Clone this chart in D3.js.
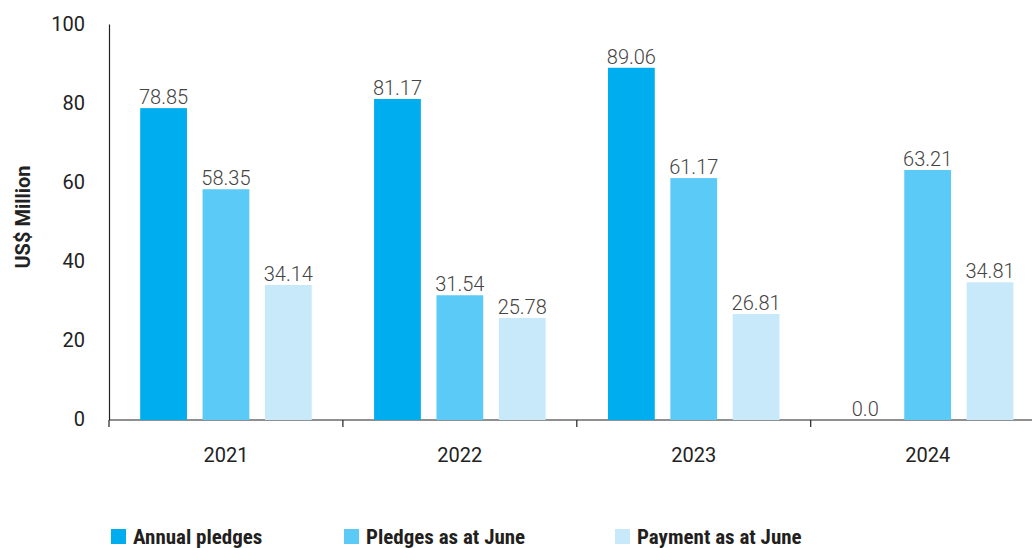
<!DOCTYPE html>
<html>
<head>
<meta charset="utf-8">
<script src="https://cdn.jsdelivr.net/npm/d3@7"></script>
<style>
  body { margin: 0; background: #fff; }
  text { font-family: Roboto, "Noto Sans", sans-serif; }
</style>
</head>
<body>
<div id="chart"></div>
<script>
var years = ["2021", "2022", "2023", "2024"];
var seriesNames = ["Annual pledges", "Pledges as at June", "Payment as at June"];
var annualPledges = [78.85, 81.17, 89.06, 0.0];
var pledgesJune = [58.35, 31.54, 61.17, 63.21];
var paymentJune = [34.14, 25.78, 26.81, 34.81];
var yTicks = [0, 20, 40, 60, 80, 100];
var colors = ["#00AEEF", "#5CCAF6", "#C7E9F9"];

var W = 1032, H = 548;
var svg = d3.select("#chart").append("svg").attr("width", W).attr("height", H);

var seriesValues = [annualPledges, pledgesJune, paymentJune];
var data = years.map(function(y, i) {
    return { year: y, vals: seriesValues.map(function(s, j) { return { key: seriesNames[j], v: s[i], c: colors[j] }; }) };
});

var x0 = d3.scaleBand().domain(years).range([109, 1044.6]);
var x1 = d3.scaleBand().domain(seriesNames).range([0, x0.bandwidth()]).paddingInner(0.25).paddingOuter(0.5);
var y = d3.scaleLinear().domain([0, 100]).range([420, 24.5]);

function fmt(v) { return v === 0 ? "0.0" : v.toFixed(2); }

// y axis line
svg.append("line").attr("x1", 109.5).attr("x2", 109.5).attr("y1", y(100)).attr("y2", y(0))
    .attr("stroke", "#222").attr("stroke-width", 1.2);

svg.selectAll(".ytick").data(yTicks).enter().append("text")
    .attr("class", "ytick")
    .attr("x", 85).attr("y", function(d) { return y(d); })
    .attr("dy", "0.32em").attr("text-anchor", "end")
    .style("font-size", "20px").attr("fill", "#222")
    .text(function(d) { return d; });

// x axis
svg.append("line").attr("x1", 109).attr("x2", 1032).attr("y1", 420).attr("y2", 420)
    .attr("stroke", "#222").attr("stroke-width", 1.2);
svg.selectAll(".xtickmark").data(years).enter().append("line")
    .attr("x1", function(d) { return x0(d); }).attr("x2", function(d) { return x0(d); })
    .attr("y1", 420).attr("y2", 427).attr("stroke", "#222").attr("stroke-width", 1.2);
svg.selectAll(".xlabel").data(years).enter().append("text")
    .attr("x", function(d) { return x0(d) + x0.bandwidth() / 2; })
    .attr("y", 462).attr("text-anchor", "middle")
    .style("font-size", "20px").attr("fill", "#222")
    .text(function(d) { return d; });

// bars
var groups = svg.selectAll(".grp").data(data).enter().append("g")
    .attr("transform", function(d) { return "translate(" + x0(d.year) + ",0)"; });

groups.selectAll("rect").data(function(d) { return d.vals; }).enter().append("rect")
    .attr("x", function(d) { return x1(d.key); })
    .attr("y", function(d) { return y(d.v); })
    .attr("width", x1.bandwidth())
    .attr("height", function(d) { return y(0) - y(d.v); })
    .attr("fill", function(d) { return d.c; });

groups.selectAll(".val").data(function(d) { return d.vals; }).enter().append("text")
    .attr("x", function(d) { return x1(d.key) + x1.bandwidth() / 2; })
    .attr("y", function(d) { return y(d.v) - 4; })
    .attr("text-anchor", "middle")
    .style("font-size", "20px").style("font-weight", "300").attr("fill", "#444")
    .text(function(d) { return fmt(d.v); });

// y title
svg.append("text")
    .attr("transform", "translate(30,217) rotate(-90)")
    .attr("text-anchor", "middle")
    .style("font-size", "20px").style("font-weight", "bold").attr("fill", "#222")
    .text("US$ Million");

// legend
var legX = [111, 344, 615];
var leg = svg.selectAll(".leg").data(seriesNames).enter().append("g")
    .attr("transform", function(d, i) { return "translate(" + legX[i] + ",529)"; });
leg.append("rect").attr("width", 15).attr("height", 15)
    .attr("fill", function(d, i) { return colors[i]; });
leg.append("text").attr("x", 22).attr("y", 15)
    .style("font-family", "'Liberation Sans Narrow', 'Roboto Condensed', Roboto, sans-serif")
    .style("font-size", "21px").style("font-weight", "bold").attr("fill", "#231F20")
    .text(function(d) { return d; });
</script>
</body>
</html>
